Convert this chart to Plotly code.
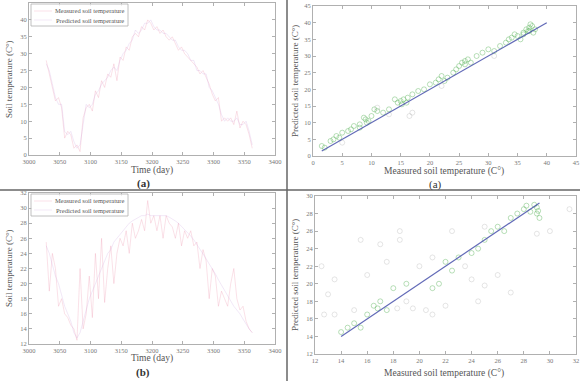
import plotly.graph_objects as go

# ---------------- data ----------------
days = [3028, 3033, 3038, 3043, 3048, 3053, 3058, 3063, 3068, 3073, 3078, 3083, 3088, 3093,
        3098, 3103, 3108, 3113, 3118, 3123, 3128, 3133, 3138, 3143, 3148, 3153, 3158, 3163,
        3168, 3173, 3178, 3183, 3188, 3193, 3198, 3203, 3208, 3213, 3218, 3223, 3228, 3233,
        3238, 3243, 3248, 3253, 3258, 3263, 3268, 3273, 3278, 3283, 3288, 3293, 3298, 3303,
        3308, 3313, 3318, 3323, 3328, 3333, 3338, 3343, 3348, 3353, 3358, 3363]

measured_a = [28, 24, 20, 16, 17, 14, 5, 7, 6, 2, 3, 1, 11, 14,
              15, 13, 19, 17, 22, 20, 24, 23, 27, 22, 29, 28, 32, 31,
              35, 36, 35, 38, 37, 40, 39, 37, 38, 36, 37, 35, 34, 35,
              33, 31, 32, 30, 29, 28, 27, 26, 24, 25, 23, 21, 18, 16,
              17, 10, 11, 10, 11, 9, 13, 8, 10, 9, 6, 2]
predicted_a = [27, 25, 21, 17, 15, 15, 7, 6, 7, 4, 2, 3, 9, 15,
               14, 15, 18, 19, 21, 22, 23, 25, 26, 25, 28, 30, 31, 33,
               34, 37, 36, 37, 39, 39, 40, 38, 37, 37, 36, 36, 35, 34,
               34, 32, 31, 31, 30, 28, 28, 25, 25, 24, 24, 20, 19, 17,
               15, 12, 10, 11, 10, 10, 11, 9, 9, 10, 7, 3]

measured_b = [25.5, 19, 24, 22, 17, 18, 16, 15.5, 14.5, 14, 12.5, 22, 14, 16,
              21, 15.5, 24, 18, 26, 17.5, 22, 25, 20, 24, 26, 25, 27, 24,
              28, 26, 27, 28.5, 27, 31, 28, 29, 27, 29, 26, 29, 28, 27.5,
              26, 28, 25, 27, 26, 27, 25, 25.5, 22, 24.5, 23, 18, 22, 21,
              17, 19, 18, 17, 20, 22, 18, 16.5, 17, 15, 14, 13.5]
predicted_b = [25, 24, 22.5, 21, 20, 18.5, 17, 16, 15, 13.5, 12.8, 13.5, 15, 16.5,
               18, 19, 20, 21, 22, 23, 24, 24.5, 25.5, 26, 26.5, 27, 27.5, 28,
               28.3, 28.5, 28.7, 29, 29, 29.2, 29, 29, 29, 29, 29, 29, 28.8, 28.6,
               28.3, 28, 27.6, 27.2, 26.8, 26.3, 25.8, 25.2, 24.6, 24, 23.3, 22.6, 22, 21.3,
               20.5, 19.8, 19, 18.3, 17.6, 17, 16.5, 16, 15.3, 14.6, 14, 13.5]

# scatter (a): measured vs predicted
sc_a_meas = [1.5, 2, 3, 3.5, 4, 4.5, 5, 6, 6.5, 7, 8, 9, 9.5, 10, 10.5, 11, 12, 13,
             14, 15, 15.5, 16, 17, 18, 19, 20, 21, 22, 23, 24, 25, 26, 27, 28, 29, 30,
             31, 32, 33, 34, 35, 36, 36.5, 37, 37.5, 38, 37, 36, 8, 24.5, 26.5, 33.5,
             14.5, 15.2, 16.2, 9.2, 8.7, 25.5, 26, 34.5, 36.8, 37.2, 37.7, 35.5, 21.5, 22.5]
sc_a_pred = [3, 2.5, 4.5, 5, 6, 5.5, 7, 7.5, 8, 9, 9.5, 11, 10.5, 12, 14, 13.5, 13, 14,
             17, 16.5, 17, 16, 18.5, 19.5, 20, 21.5, 22, 24, 23.5, 25, 27, 28.5, 28, 30, 31, 32,
             31.5, 33, 34, 35.5, 36, 37, 38, 38.5, 39, 38, 37.5, 36.5, 8.5, 26, 29, 35,
             16, 15.5, 17.5, 10, 11.5, 28, 27.5, 36.5, 37.5, 39.5, 37, 35, 23, 22.5]
sc_a_grey_meas = [16.5, 17, 11, 13, 31, 5, 22]
sc_a_grey_pred = [12, 13, 14.5, 12.5, 30, 4, 21]

# scatter (b)
sc_b_meas = [14, 14.5, 15, 15.5, 16, 16.5, 17, 17.5, 18, 19, 21, 21.5, 22, 23, 24, 24.5,
             25, 25.5, 26, 27, 27.5, 28, 28.5, 29, 29, 29.2, 28.8, 28.2, 29.1, 16.8, 22.5, 26.5]
sc_b_pred = [14.5, 15, 15.5, 15, 16.5, 17.5, 18, 17, 19.5, 20, 19.5, 20, 22.5, 23, 23.5, 24,
             25, 26, 26.5, 27.5, 28, 28.5, 28.2, 28, 28.7, 27.5, 29, 28.9, 28.3, 17.2, 21.5, 26]
sc_b_grey_meas = [13.5, 13, 12.5, 15.5, 17.5, 18.5, 18.5, 19.5, 20.5, 21, 21, 22, 24.5, 24,
                  25, 23.5, 17, 16, 20, 26, 27, 29, 30, 31.5, 22.5, 25, 19, 18.3, 15, 13.5, 12.7]
sc_b_grey_pred = [20.5, 18.8, 22, 25, 22.5, 26, 25, 17.2, 17, 16.5, 23, 17.5, 18, 20.5,
                  19.8, 22, 24.5, 21, 22, 21, 19, 25.7, 26, 28.5, 26, 26.5, 18, 17.2, 17, 16.5, 16.5]

line_a = [1.5, 40]
line_b = [14, 29.2]

ticks_time = [3000, 3050, 3100, 3150, 3200, 3250, 3300, 3350, 3400]
ticks_a = [0, 5, 10, 15, 20, 25, 30, 35, 40, 45]
ticks_b_temp = [12, 14, 16, 18, 20, 22, 24, 26, 28, 30, 32]
ticks_b_y = [12, 14, 16, 18, 20, 22, 24, 26, 28, 30]

legend_labels = ["Measured soil temperature", "Predicted soil temperature"]

# ---------------- figure ----------------
W, H = 580, 381
SERIF = "Liberation Serif"
C_MEAS = "rgba(235,130,160,0.3)"
C_PRED = "rgba(200,160,220,0.3)"
C_GREEN = "rgba(80,175,80,0.4)"
C_GREY = "rgba(150,150,150,0.25)"
C_AX = "#b0b0b0"

def px(x):
    return x / W

def py(y):
    return 1 - y / H

fig = go.Figure()

fig.add_trace(go.Scatter(x=days, y=measured_a, mode="lines", name=legend_labels[0],
                         line=dict(color=C_MEAS, width=0.8), xaxis="x", yaxis="y", showlegend=False))
fig.add_trace(go.Scatter(x=days, y=predicted_a, mode="lines", name=legend_labels[1],
                         line=dict(color=C_PRED, width=0.8), xaxis="x", yaxis="y", showlegend=False))
fig.add_trace(go.Scatter(x=sc_a_grey_meas, y=sc_a_grey_pred, mode="markers", showlegend=False,
                         marker=dict(symbol="circle-open", size=5, color=C_GREY), xaxis="x2", yaxis="y2"))
fig.add_trace(go.Scatter(x=sc_a_meas, y=sc_a_pred, mode="markers", showlegend=False,
                         marker=dict(symbol="circle-open", size=5, color=C_GREEN), xaxis="x2", yaxis="y2"))
fig.add_trace(go.Scatter(x=line_a, y=line_a, mode="lines", showlegend=False,
                         line=dict(color="rgba(70,80,170,0.85)", width=1.2), xaxis="x2", yaxis="y2"))
fig.add_trace(go.Scatter(x=days, y=measured_b, mode="lines", name=legend_labels[0],
                         line=dict(color=C_MEAS, width=0.8), xaxis="x3", yaxis="y3", showlegend=False))
fig.add_trace(go.Scatter(x=days, y=predicted_b, mode="lines", name=legend_labels[1],
                         line=dict(color=C_PRED, width=0.8), xaxis="x3", yaxis="y3", showlegend=False))
fig.add_trace(go.Scatter(x=sc_b_grey_meas, y=sc_b_grey_pred, mode="markers", showlegend=False,
                         marker=dict(symbol="circle-open", size=5, color=C_GREY), xaxis="x4", yaxis="y4"))
fig.add_trace(go.Scatter(x=sc_b_meas, y=sc_b_pred, mode="markers", showlegend=False,
                         marker=dict(symbol="circle-open", size=5, color=C_GREEN), xaxis="x4", yaxis="y4"))
fig.add_trace(go.Scatter(x=line_b, y=line_b, mode="lines", showlegend=False,
                         line=dict(color="rgba(70,80,170,0.85)", width=1.2), xaxis="x4", yaxis="y4"))

def ax(domain, rng, tickvals, anchor):
    return dict(domain=domain, range=rng, tickvals=tickvals, anchor=anchor, automargin=False,
                showline=True, linecolor=C_AX, linewidth=1, mirror="ticks",
                ticks="inside", ticklen=3, tickcolor=C_AX, showgrid=False, zeroline=False,
                tickfont=dict(family=SERIF, size=6.5, color="#777777"))

shapes = [
    dict(type="line", xref="paper", yref="paper", x0=px(287), x1=px(287), y0=0, y1=1,
         line=dict(color="#666666", width=1.5)),
    dict(type="line", xref="paper", yref="paper", x0=0, x1=1, y0=py(190), y1=py(190),
         line=dict(color="#666666", width=1.5)),
]
annotations = []

def T(text, x, y, size=9, angle=0, color="#555555", xanchor="center"):
    annotations.append(dict(text=text, x=px(x), y=py(y), xref="paper", yref="paper",
                            showarrow=False, textangle=angle, xanchor=xanchor, yanchor="middle",
                            font=dict(family=SERIF, size=size, color=color)))

# axis titles
T("Time (day)", 152, 170, 9.5)
T("Soil temperature (C°)", 9, 79, 9, -90)
T("Measured soil temperature (C°)", 444, 172, 9.5)
T("Predicted soil temperature (C°)", 295, 81, 9, -90)
T("Time (day)", 152, 358, 9.5)
T("Soil temperature (C°)", 9, 268, 9, -90)
T("Measured soil temperature (C°)", 444, 373, 9.5)
T("Predicted soil temperature (C°)", 295, 275, 9, -90)
# panel labels
T("<b>(a)</b>", 143, 183, 11, color="#333333")
T("(a)", 435, 184, 11, color="#333333")
T("<b>(b)</b>", 143, 372, 11, color="#333333")

# manual legends
for top in (4, 194):
    shapes.append(dict(type="rect", xref="paper", yref="paper", x0=px(31), x1=px(128),
                       y0=py(top + 22), y1=py(top), line=dict(color=C_AX, width=0.8),
                       fillcolor="rgba(255,255,255,0.8)"))
    for i, (lab, col) in enumerate(zip(legend_labels, [C_MEAS, C_PRED])):
        yy = top + 7 + i * 9
        shapes.append(dict(type="line", xref="paper", yref="paper", x0=px(34), x1=px(52),
                           y0=py(yy), y1=py(yy), line=dict(color=col, width=0.8)))
        T(lab, 126, yy, 6.5, color="#555555", xanchor="right")

fig.update_layout(
    width=W, height=H, margin=dict(l=0, r=0, t=0, b=0, autoexpand=False),
    paper_bgcolor="white", plot_bgcolor="white", showlegend=False,
    xaxis=ax([px(29), px(275)], [3000, 3400], ticks_time, "y"),
    yaxis=ax([py(155), py(3)], [0, 45], ticks_a, "x"),
    xaxis2=ax([px(313), px(576)], [0, 45], ticks_a, "y2"),
    yaxis2=ax([py(156), py(6)], [0, 45], ticks_a, "x2"),
    xaxis3=ax([px(29), px(275)], [3000, 3400], ticks_time, "y3"),
    yaxis3=ax([py(344), py(193)], [12, 32], ticks_b_temp, "x3"),
    xaxis4=ax([px(315), px(576)], [12, 32], ticks_b_temp, "y4"),
    yaxis4=ax([py(354), py(196)], [12, 30], ticks_b_y, "x4"),
    shapes=shapes,
    annotations=annotations,
)

fig.write_html("out.html", config={"displayModeBar": False},
               post_script="document.body.style.margin='0';document.body.style.overflow='hidden';")
